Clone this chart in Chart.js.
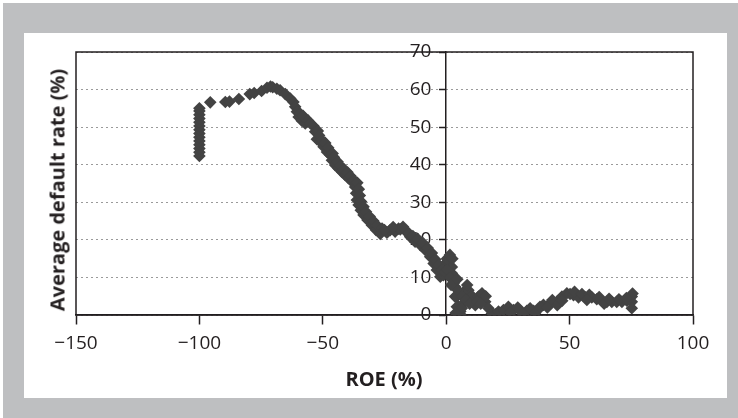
<!DOCTYPE html>
<html>
<head>
<meta charset="utf-8">
<script src="https://cdn.jsdelivr.net/npm/chart.js@4/dist/chart.umd.min.js"></script>
<style>
  html, body { margin: 0; padding: 0; background: #fff; }
  body { width: 738px; height: 418px; position: relative; overflow: hidden; font-family: "Open Sans", sans-serif; }
  #frame { position: absolute; left: 3px; top: 3px; width: 735px; height: 415px; background: #bebfc1; }
  #panel { position: absolute; left: 24px; top: 33px; width: 703px; height: 365px; background: #fff; }
  #chart { position: absolute; left: 0; top: 0; }
  .axis-title { position: absolute; font-weight: bold; font-size: 20px; color: #231f20; white-space: nowrap; }
  #xTitle { left: 384px; top: 378px; transform: translate(-50%, -50%); }
  #yTitle { left: 57px; top: 190px; transform: translate(-50%, -50%) rotate(-90deg); }
</style>
</head>
<body>
<div id="frame"></div>
<div id="panel"></div>
<canvas id="chart" width="738" height="418"></canvas>
<div class="axis-title" id="xTitle">ROE (%)</div>
<div class="axis-title" id="yTitle">Average default rate (%)</div>
<script>
// ── DATA ────────────────────────────────────────────────
const xTicks = [-150, -100, -50, 0, 50, 100];
const yTicks = [0, 10, 20, 30, 40, 50, 60, 70];

// main trace
const roeValues = [
  -100, -100, -100, -100, -100, -100, -100, -100, -100, -100, -100, -100, -100, -100,
  -95.6, -89.5, -87.8, -84, -79.6, -77.8, -74.8, -72.6, -71.2, -70.3, -68.6,
  -67.3, -65.2, -63.2, -61.9, -61.2, -60.5, -59.8, -59.2, -58.5, -57.1, -53.8, -53.1,
  -52.4, -51.1, -49.7, -48.3, -47, -46.3, -45, -43.6, -42.3, -40.9, -39.6, -38.2,
  -36.9, -36.5, -36.2, -35.5, -34.6, -33.5, -31.9, -30.1, -28.4, -26.7, -24, -22.7,
  -20.7, -19.3, -18.6, -16.6, -14.6, -12.6, -10.5, -8.5, -6.5, -5.1, -3.8, -2.4,
  -1.1, -0.4, 0.3, 0.9, 2.3, 3, 3.6, 4.3, 5, 5.7,
  2.3, 3, 3.6, 4.3, 5.7, 7, 7.7, 9, 10.4, 11.8, 13.1, 14.5, 15.8, 17.1, 18.5,
  19.9, 21.2, 23.2, 25.2, 27.3, 30, 32.7, 35.4, 37.4, 39.4, 42.1, 44.9, 46.9, 48.9,
  50.2, 51.6, 53.6, 56.3, 59, 61, 63, 65.1, 67.1, 69.1, 71.2, 73.2,
  75.2, 75.2, 75.2, 75.5
];

const defaultRates = [
  42.3, 43.3, 44.3, 45.3, 46.3, 47.3, 48.3, 49.3, 50.3, 51.3, 52.3, 53.3, 54.3, 55,
  56.6, 56.7, 56.8, 57.5, 58.8, 59.1, 59.6, 60.5, 60.8, 60.6, 60.2,
  59.8, 58.8, 57.6, 56.7, 55.4, 54.1, 52.7, 53.6, 51.7, 51, 50.3, 48.8,
  46.8, 46.1, 44.8, 43.4, 42.6, 41.2, 39.9, 39, 38.1, 37.2, 36.4, 35.5,
  34.1, 32.4, 30.6, 29.3, 27.9, 26.6, 25.3, 23.9, 22.6, 21.6, 21.9, 22.6,
  22.2, 23, 22.8, 22.4, 20.8, 19.5, 18.6, 17.3, 15.5, 13.7, 12, 10.2,
  10.6, 13.7, 15, 14.6, 12.8, 10.2, 7.5, 4.9, 2.2, 0.9,
  11.1, 8.4, 4.9, 2.2, 0.2, 3.1, 6.6, 6.6, 5.1, 2.6, 4.9, 5.8, 3.5, 1.8, 0.4,
  0.2, 0.9, 1.3, 2.2, 1.3, 1.1, 1.1, 1.1, 1.5, 2.7, 3.1, 3.5, 4.9, 5.8,
  5.6, 5.3, 4.7, 4.7, 4.7, 4.2, 3.8, 3.5, 3.5, 3.5, 3.5, 3.8,
  4.9, 3.5, 1.8, 5.7
];

// extra observations that make the band thicker
const roeExtra = [
  -58, -56, -55, -52, -51.5, -50.3, -49, -47.8, -46, -45.5, -44, -42.8, -41.5, -40,
  -38.8, -37.5, -36, -35.4, -35, -34.5, -33.5, -32.5, -31, -29.5, -28, -26, -25,
  -21.5, -17.5, -15.2, -13.5, -11.5, -9.5, -7.5, -5.8, -4.4, -3, -1.8, -0.5, 0.5,
  1.5, 2.5, 1.5, 2, 4.5, 4.8, 6.3, 3.8,
  6.5, 8, 8.5, 9.5, 12.5, 14, 16,
  26, 29, 31, 34, 36, 38, 41, 43, 45, 47,
  52, 55, 58, 57, 62, 64, 66, 70, 73
];

const rateExtra = [
  53, 51.8, 51, 49, 47.8, 46.5, 45.8, 44.5, 43, 42, 40.8, 39.7, 38.8, 38,
  37, 36, 35.2, 33.5, 31.8, 30.2, 28.8, 27.5, 26.2, 25, 23.8, 23, 22.6,
  23.4, 23.5, 21.8, 21, 20.2, 19.2, 17.8, 16.5, 14.8, 13.3, 12, 11.5, 12,
  16, 15, 10, 8, 9.5, 6.5, 1.8, 0.5,
  5, 4, 8, 3, 3.5, 3, 5,
  0.6, 2, 0.4, 1.8, 0.5, 2.2, 2, 4, 2.6, 3.8,
  6.2, 5.6, 5.4, 4, 4.8, 3, 4.3, 4.2, 4.5
];

// ── HELPERS ─────────────────────────────────
function buildPoints(xs, ys) {
  return xs.map((x, i) => ({ x: x, y: ys[i] }));
}

function fmtTick(v) {
  return String(v).replace("-", "\u2212");
}

// black box round the plot area
const plotBox = {
  id: "plotBox",
  beforeDatasetsDraw(chart) {
    const a = chart.chartArea;
    const ctx = chart.ctx;
    ctx.save();
    ctx.strokeStyle = "#231f20";
    ctx.lineWidth = 1.5;
    ctx.strokeRect(a.left, a.top, a.right - a.left, a.bottom - a.top);
    ctx.restore();
  }
};

// ── CHART ─────────────────────────────────
new Chart(document.getElementById("chart").getContext("2d"), {
  type: "scatter",
  data: {
    datasets: [{
      data: buildPoints(roeValues, defaultRates).concat(buildPoints(roeExtra, rateExtra)),
      pointStyle: "rectRot",
      pointRadius: 6.3,
      pointHoverRadius: 6.3,
      backgroundColor: "#434343",
      borderColor: "#434343",
      borderWidth: 0
    }]
  },
  options: {
    responsive: false,
    animation: false,
    devicePixelRatio: 1,
    layout: { padding: { left: 76, right: 45, top: 52, bottom: 103 } },
    plugins: { legend: { display: false }, tooltip: { enabled: false } },
    scales: {
      x: {
        type: "linear",
        position: { y: 0 },
        min: -150,
        max: 100,
        afterBuildTicks: axis => { axis.ticks = xTicks.map(v => ({ value: v })); },
        grid: { display: true, drawOnChartArea: false, drawTicks: true, tickLength: 9, tickColor: "#231f20", tickWidth: 1.5 },
        border: { display: true, color: "#231f20", width: 1.5 },
        ticks: {
          padding: 8,
          color: "#231f20",
          font: { family: "Open Sans", size: 19 },
          maxRotation: 0,
          callback: v => fmtTick(v)
        }
      },
      y: {
        type: "linear",
        position: { x: 0 },
        min: 0,
        max: 70,
        afterBuildTicks: axis => { axis.ticks = yTicks.map(v => ({ value: v })); },
        grid: {
          display: true,
          drawOnChartArea: true,
          drawTicks: true,
          tickLength: 6,
          color: "#9a9a9a",
          lineWidth: 1,
          tickColor: "#231f20",
          tickWidth: 1.5
        },
        border: { display: true, color: "#231f20", width: 1.5, dash: [2, 3] },
        ticks: {
          color: "#231f20",
          font: { family: "Open Sans", size: 19 },
          callback: v => fmtTick(v) + "   "
        }
      }
    }
  },
  plugins: [plotBox]
});
</script>
</body>
</html>
